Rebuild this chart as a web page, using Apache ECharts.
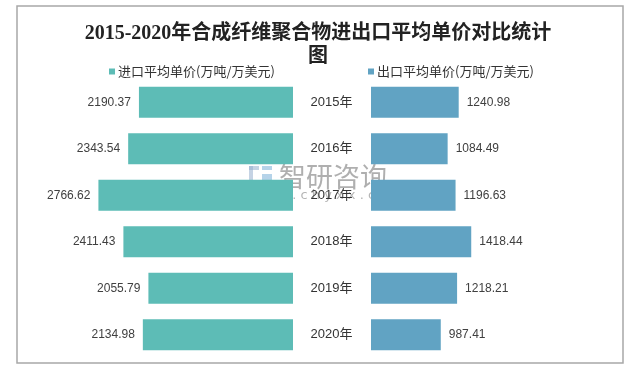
<!DOCTYPE html>
<html>
<head>
<meta charset="utf-8">
<script src="https://cdn.jsdelivr.net/npm/echarts@6/dist/echarts.min.js"></script>
<style>html,body{margin:0;padding:0;background:#fff}#c{width:636px;height:368px}</style>
</head>
<body>
<div id="c"></div>
<script>
var titleText = '2015-2020年合成纤维聚合物进出口平均单价对比统计\n图';
var categories = ['2015年', '2016年', '2017年', '2018年', '2019年', '2020年'];
var importName = '进口平均单价(万吨/万美元)';
var exportName = '出口平均单价(万吨/万美元)';
var importPrice = [2190.37, 2343.54, 2766.62, 2411.43, 2055.79, 2134.98];
var exportPrice = [1240.98, 1084.49, 1196.63, 1418.44, 1218.21, 987.41];

var chart = echarts.init(document.getElementById('c'), null, {renderer: 'canvas'});
var hidden = {show: false};
var fmt = function (p) { return Number(p.value).toFixed(2); };
var option = {
  backgroundColor: '#fff',
  animation: false,
  title: {
    text: titleText,
    left: 'center',
    top: 17,
    textStyle: {
      fontFamily: "'Liberation Serif', 'Noto Sans CJK SC', serif",
      fontWeight: 'bold',
      fontSize: 20,
      lineHeight: 23,
      color: '#222'
    }
  },
  legend: [
    {
      data: [importName], left: 104, top: 60, icon: 'rect', itemWidth: 6, itemHeight: 6,
      textStyle: {fontSize: 13, color: '#333', fontFamily: "'Noto Sans CJK SC', sans-serif", padding: [0, 0, 0, -2]}
    },
    {
      data: [exportName], left: 363, top: 60, icon: 'rect', itemWidth: 6, itemHeight: 6,
      textStyle: {fontSize: 13, color: '#333', fontFamily: "'Noto Sans CJK SC', sans-serif", padding: [0, 0, 0, -2]}
    }
  ],
  grid: [
    {left: 82, width: 211, top: 79, bottom: 10, containLabel: false},
    {left: 371, width: 212, top: 79, bottom: 10, containLabel: false}
  ],
  xAxis: [
    {gridIndex: 0, type: 'value', inverse: true, min: 0, max: 3000, show: false},
    {gridIndex: 1, type: 'value', min: 0, max: 3000, show: false}
  ],
  yAxis: [
    {gridIndex: 0, type: 'category', data: categories, inverse: true, axisLine: hidden, axisTick: hidden, axisLabel: hidden, splitLine: hidden},
    {gridIndex: 1, type: 'category', data: categories, inverse: true, axisLine: hidden, axisTick: hidden, splitLine: hidden,
      axisLabel: {show: true, align: 'center', margin: 39.5, fontSize: 13, color: '#333', fontFamily: "'Liberation Sans', 'Noto Sans CJK SC', sans-serif"}}
  ],
  series: [
    {
      name: importName, type: 'bar', xAxisIndex: 0, yAxisIndex: 0, data: importPrice, barWidth: 31,
      itemStyle: {color: '#5DBCB6'},
      label: {show: true, position: 'left', distance: 8, formatter: fmt, fontSize: 12, color: '#404040', fontFamily: "'Liberation Sans', sans-serif"}
    },
    {
      name: exportName, type: 'bar', xAxisIndex: 1, yAxisIndex: 1, data: exportPrice, barWidth: 31,
      itemStyle: {color: '#61A3C3'},
      label: {show: true, position: 'right', distance: 8, formatter: fmt, fontSize: 12, color: '#404040', fontFamily: "'Liberation Sans', sans-serif"}
    }
  ],
  graphic: [
    {type: 'rect', z: 100, silent: true, shape: {x: 17, y: 6, width: 606, height: 357},
      style: {fill: 'none', stroke: '#a8a8a8', lineWidth: 1.5}},
    {type: 'group', z: 100, silent: true, children: [
      {type: 'rect', shape: {x: 249, y: 166, width: 10, height: 4}, style: {fill: 'rgba(150,175,205,0.55)'}},
      {type: 'rect', shape: {x: 249, y: 166, width: 4, height: 20}, style: {fill: 'rgba(150,175,205,0.55)'}},
      {type: 'rect', shape: {x: 262, y: 166, width: 10, height: 4}, style: {fill: 'rgba(120,175,215,0.55)'}},
      {type: 'rect', shape: {x: 262, y: 174, width: 10, height: 12}, style: {fill: 'rgba(120,175,215,0.55)'}},
      {type: 'text', style: {x: 279, y: 163, text: '智研咨询', fontSize: 27, fontFamily: "'Noto Sans CJK SC', sans-serif", fill: 'rgba(110,110,110,0.55)'}},
      {type: 'text', style: {x: 248, y: 189, text: 'w w w . c h y x x . c o m', fontSize: 13, fontFamily: "'DejaVu Sans', sans-serif", fill: 'rgba(110,110,110,0.5)'}}
    ]}
  ]
};
chart.setOption(option);
</script>
</body>
</html>
